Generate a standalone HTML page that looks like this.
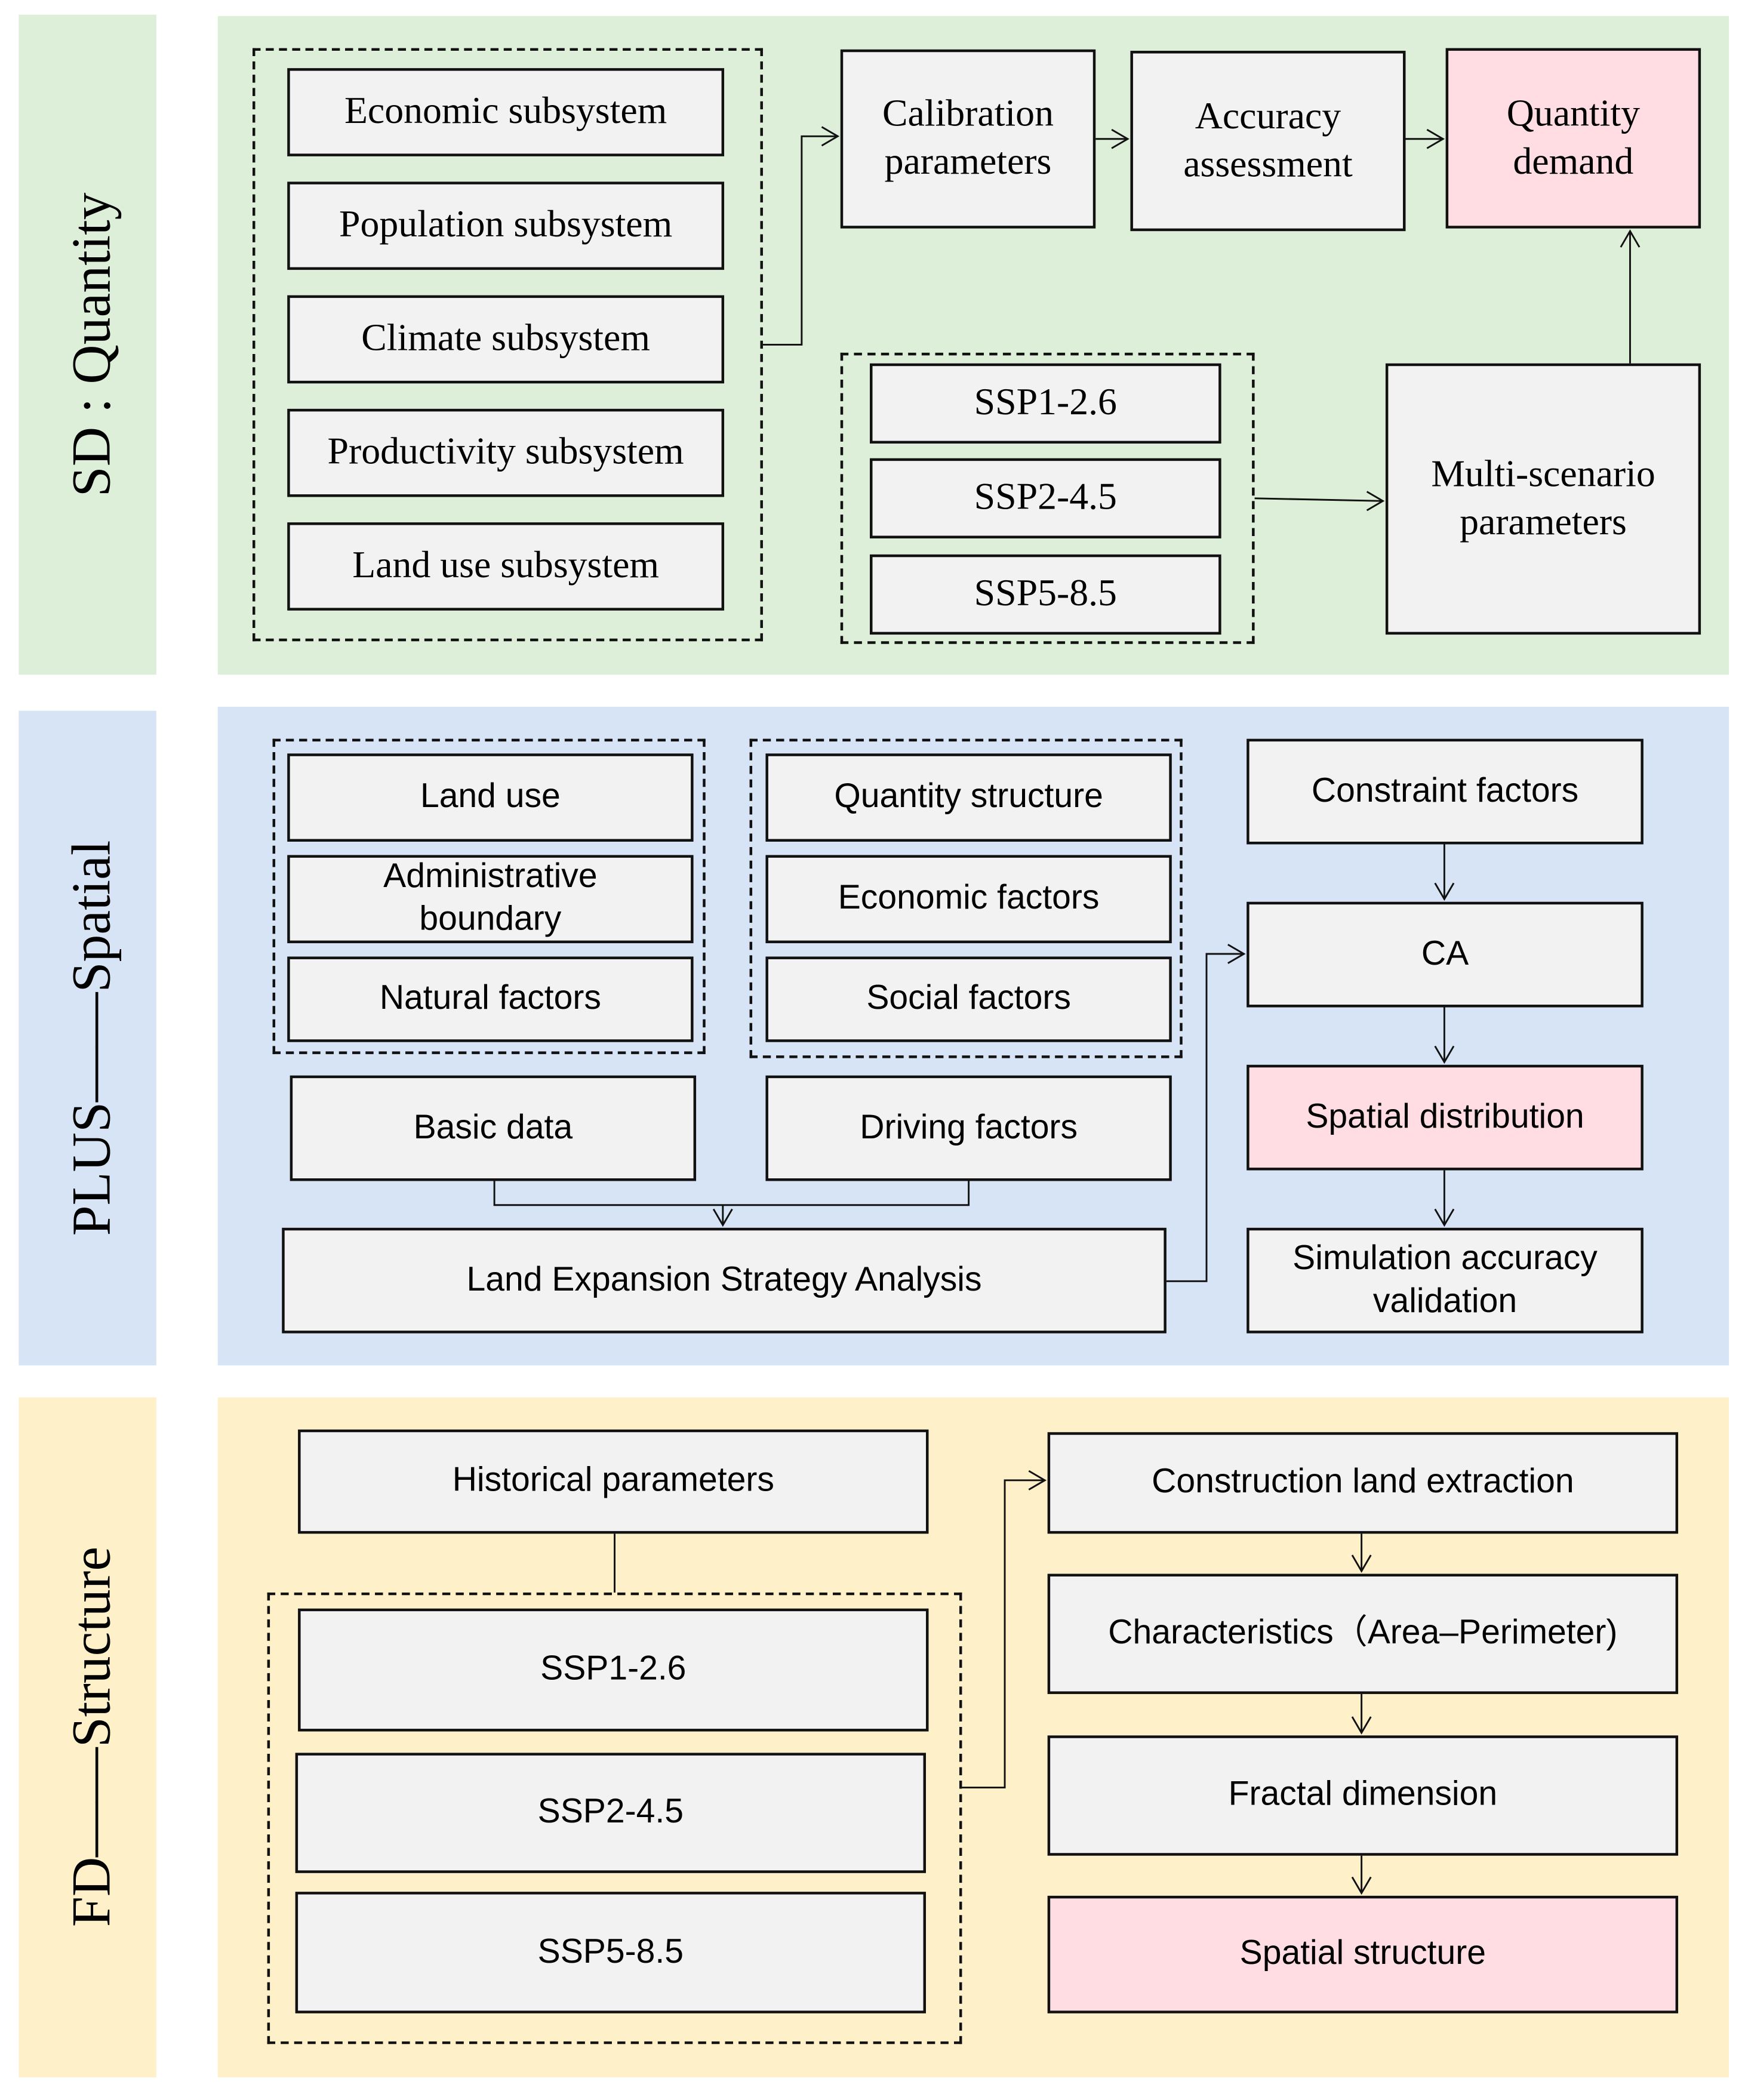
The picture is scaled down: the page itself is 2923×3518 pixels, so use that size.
<!DOCTYPE html>
<html><head><meta charset="utf-8"><style>
html,body{margin:0;padding:0;background:#fff;}
body{width:2923px;height:3518px;overflow:hidden;position:relative;}
#c{position:absolute;left:0;top:0;width:1306px;height:1572px;transform:scale(2.2381);transform-origin:0 0;}
.p{position:absolute;}
.b{position:absolute;box-sizing:border-box;border:2.6px solid #111;background:#f2f2f2;display:flex;align-items:center;justify-content:center;text-align:center;color:#000;line-height:1.3;white-space:nowrap;}
.s{font-family:"Liberation Serif",serif;font-size:28.5px;line-height:1.25;}
.a{font-family:"Liberation Sans",sans-serif;font-size:25.5px;line-height:1.25;}
.k{background:#ffdde3;}
.d{position:absolute;box-sizing:border-box;border:2.4px dashed #111;}
.lab{position:absolute;font-family:"Liberation Serif",serif;font-size:41px;white-space:nowrap;transform:translate(-50%,-50%) rotate(-90deg);}
svg{position:absolute;left:0;top:0;}
</style></head><body><div id="c">
<div class="p" style="left:14px;top:11px;width:103px;height:494px;background:#ddefd9"></div>
<div class="p" style="left:163px;top:12px;width:1131px;height:493px;background:#ddefd9"></div>
<div class="p" style="left:14px;top:532px;width:103px;height:490px;background:#d6e4f5"></div>
<div class="p" style="left:163px;top:529px;width:1131px;height:493px;background:#d6e4f5"></div>
<div class="p" style="left:14px;top:1046px;width:103px;height:509px;background:#fef0c9"></div>
<div class="p" style="left:163px;top:1046px;width:1131px;height:509px;background:#fef0c9"></div>

<div class="lab" style="left:68px;top:258px">SD : Quantity</div>
<div class="lab" style="left:68px;top:777px">PLUS——Spatial</div>
<div class="lab" style="left:68px;top:1300px">FD——Structure</div>

<div class="d" style="left:189px;top:36px;width:382px;height:444px"></div>
<div class="b s" style="left:215px;top:51px;width:327px;height:66px">Economic subsystem</div>
<div class="b s" style="left:215px;top:136px;width:327px;height:66px">Population subsystem</div>
<div class="b s" style="left:215px;top:221px;width:327px;height:66px">Climate subsystem</div>
<div class="b s" style="left:215px;top:306px;width:327px;height:66px">Productivity subsystem</div>
<div class="b s" style="left:215px;top:391px;width:327px;height:66px">Land use subsystem</div>
<div class="b s" style="left:629px;top:37px;width:191px;height:134px">Calibration<br>parameters</div>
<div class="b s" style="left:846px;top:38px;width:206px;height:135px">Accuracy<br>assessment</div>
<div class="b s k" style="left:1082px;top:36px;width:191px;height:135px">Quantity<br>demand</div>
<div class="d" style="left:629px;top:264px;width:310px;height:218px"></div>
<div class="b s" style="left:651px;top:272px;width:263px;height:60px">SSP1-2.6</div>
<div class="b s" style="left:651px;top:343px;width:263px;height:60px">SSP2-4.5</div>
<div class="b s" style="left:651px;top:415px;width:263px;height:60px">SSP5-8.5</div>
<div class="b s" style="left:1037px;top:272px;width:236px;height:203px">Multi-scenario<br>parameters</div>

<div class="d" style="left:204px;top:553px;width:324px;height:236px"></div>
<div class="b a" style="left:215px;top:564px;width:304px;height:66px">Land use</div>
<div class="b a" style="left:215px;top:640px;width:304px;height:66px">Administrative<br>boundary</div>
<div class="b a" style="left:215px;top:716px;width:304px;height:64px">Natural factors</div>
<div class="d" style="left:561px;top:553px;width:324px;height:239px"></div>
<div class="b a" style="left:573px;top:564px;width:304px;height:66px">Quantity structure</div>
<div class="b a" style="left:573px;top:640px;width:304px;height:66px">Economic factors</div>
<div class="b a" style="left:573px;top:716px;width:304px;height:64px">Social factors</div>
<div class="b a" style="left:217px;top:805px;width:304px;height:79px">Basic data</div>
<div class="b a" style="left:573px;top:805px;width:304px;height:79px">Driving factors</div>
<div class="b a" style="left:211px;top:919px;width:662px;height:79px">Land Expansion Strategy Analysis</div>
<div class="b a" style="left:933px;top:553px;width:297px;height:79px">Constraint factors</div>
<div class="b a" style="left:933px;top:675px;width:297px;height:79px">CA</div>
<div class="b a k" style="left:933px;top:797px;width:297px;height:79px">Spatial distribution</div>
<div class="b a" style="left:933px;top:919px;width:297px;height:79px">Simulation accuracy<br>validation</div>

<div class="b a" style="left:223px;top:1070px;width:472px;height:78px">Historical parameters</div>
<div class="d" style="left:200px;top:1192px;width:520px;height:338px"></div>
<div class="b a" style="left:223px;top:1204px;width:472px;height:92px">SSP1-2.6</div>
<div class="b a" style="left:221px;top:1312px;width:472px;height:90px">SSP2-4.5</div>
<div class="b a" style="left:221px;top:1416px;width:472px;height:91px">SSP5-8.5</div>
<div class="b a" style="left:784px;top:1072px;width:472px;height:76px">Construction land extraction</div>
<div class="b a" style="left:784px;top:1178px;width:472px;height:90px">Characteristics（Area–Perimeter)</div>
<div class="b a" style="left:784px;top:1299px;width:472px;height:90px">Fractal dimension</div>
<div class="b a k" style="left:784px;top:1419px;width:472px;height:88px">Spatial structure</div>

<svg width="1306" height="1572" viewBox="0 0 1306 1572" fill="none" stroke="#111" stroke-width="1.3">
<polyline points="571,258 600,258 600,102 627,102"/><polyline points="615,95 627,102 615,109"/>
<line x1="820" y1="104" x2="844" y2="104"/><polyline points="832,97 844,104 832,111"/>
<line x1="1052" y1="104" x2="1080" y2="104"/><polyline points="1068,97 1080,104 1068,111"/>
<line x1="939" y1="373" x2="1035" y2="375"/><polyline points="1023,368 1035,375 1023,382"/>
<line x1="1220" y1="272" x2="1220" y2="173"/><polyline points="1213,185 1220,173 1227,185"/>
<polyline points="370,884 370,902 725,902 725,884"/>
<line x1="541" y1="902" x2="541" y2="917"/><polyline points="534,905 541,917 548,905"/>
<polyline points="873,959 903,959 903,714 931,714"/><polyline points="919,707 931,714 919,721"/>
<line x1="1081" y1="632" x2="1081" y2="673"/><polyline points="1074,661 1081,673 1088,661"/>
<line x1="1081" y1="754" x2="1081" y2="795"/><polyline points="1074,783 1081,795 1088,783"/>
<line x1="1081" y1="876" x2="1081" y2="917"/><polyline points="1074,905 1081,917 1088,905"/>
<line x1="460" y1="1148" x2="460" y2="1192"/>
<polyline points="720,1338 752,1338 752,1108 782,1108"/><polyline points="770,1101 782,1108 770,1115"/>
<line x1="1019" y1="1148" x2="1019" y2="1176"/><polyline points="1012,1164 1019,1176 1026,1164"/>
<line x1="1019" y1="1268" x2="1019" y2="1297"/><polyline points="1012,1285 1019,1297 1026,1285"/>
<line x1="1019" y1="1389" x2="1019" y2="1417"/><polyline points="1012,1405 1019,1417 1026,1405"/>
</svg>
</div></body></html>
